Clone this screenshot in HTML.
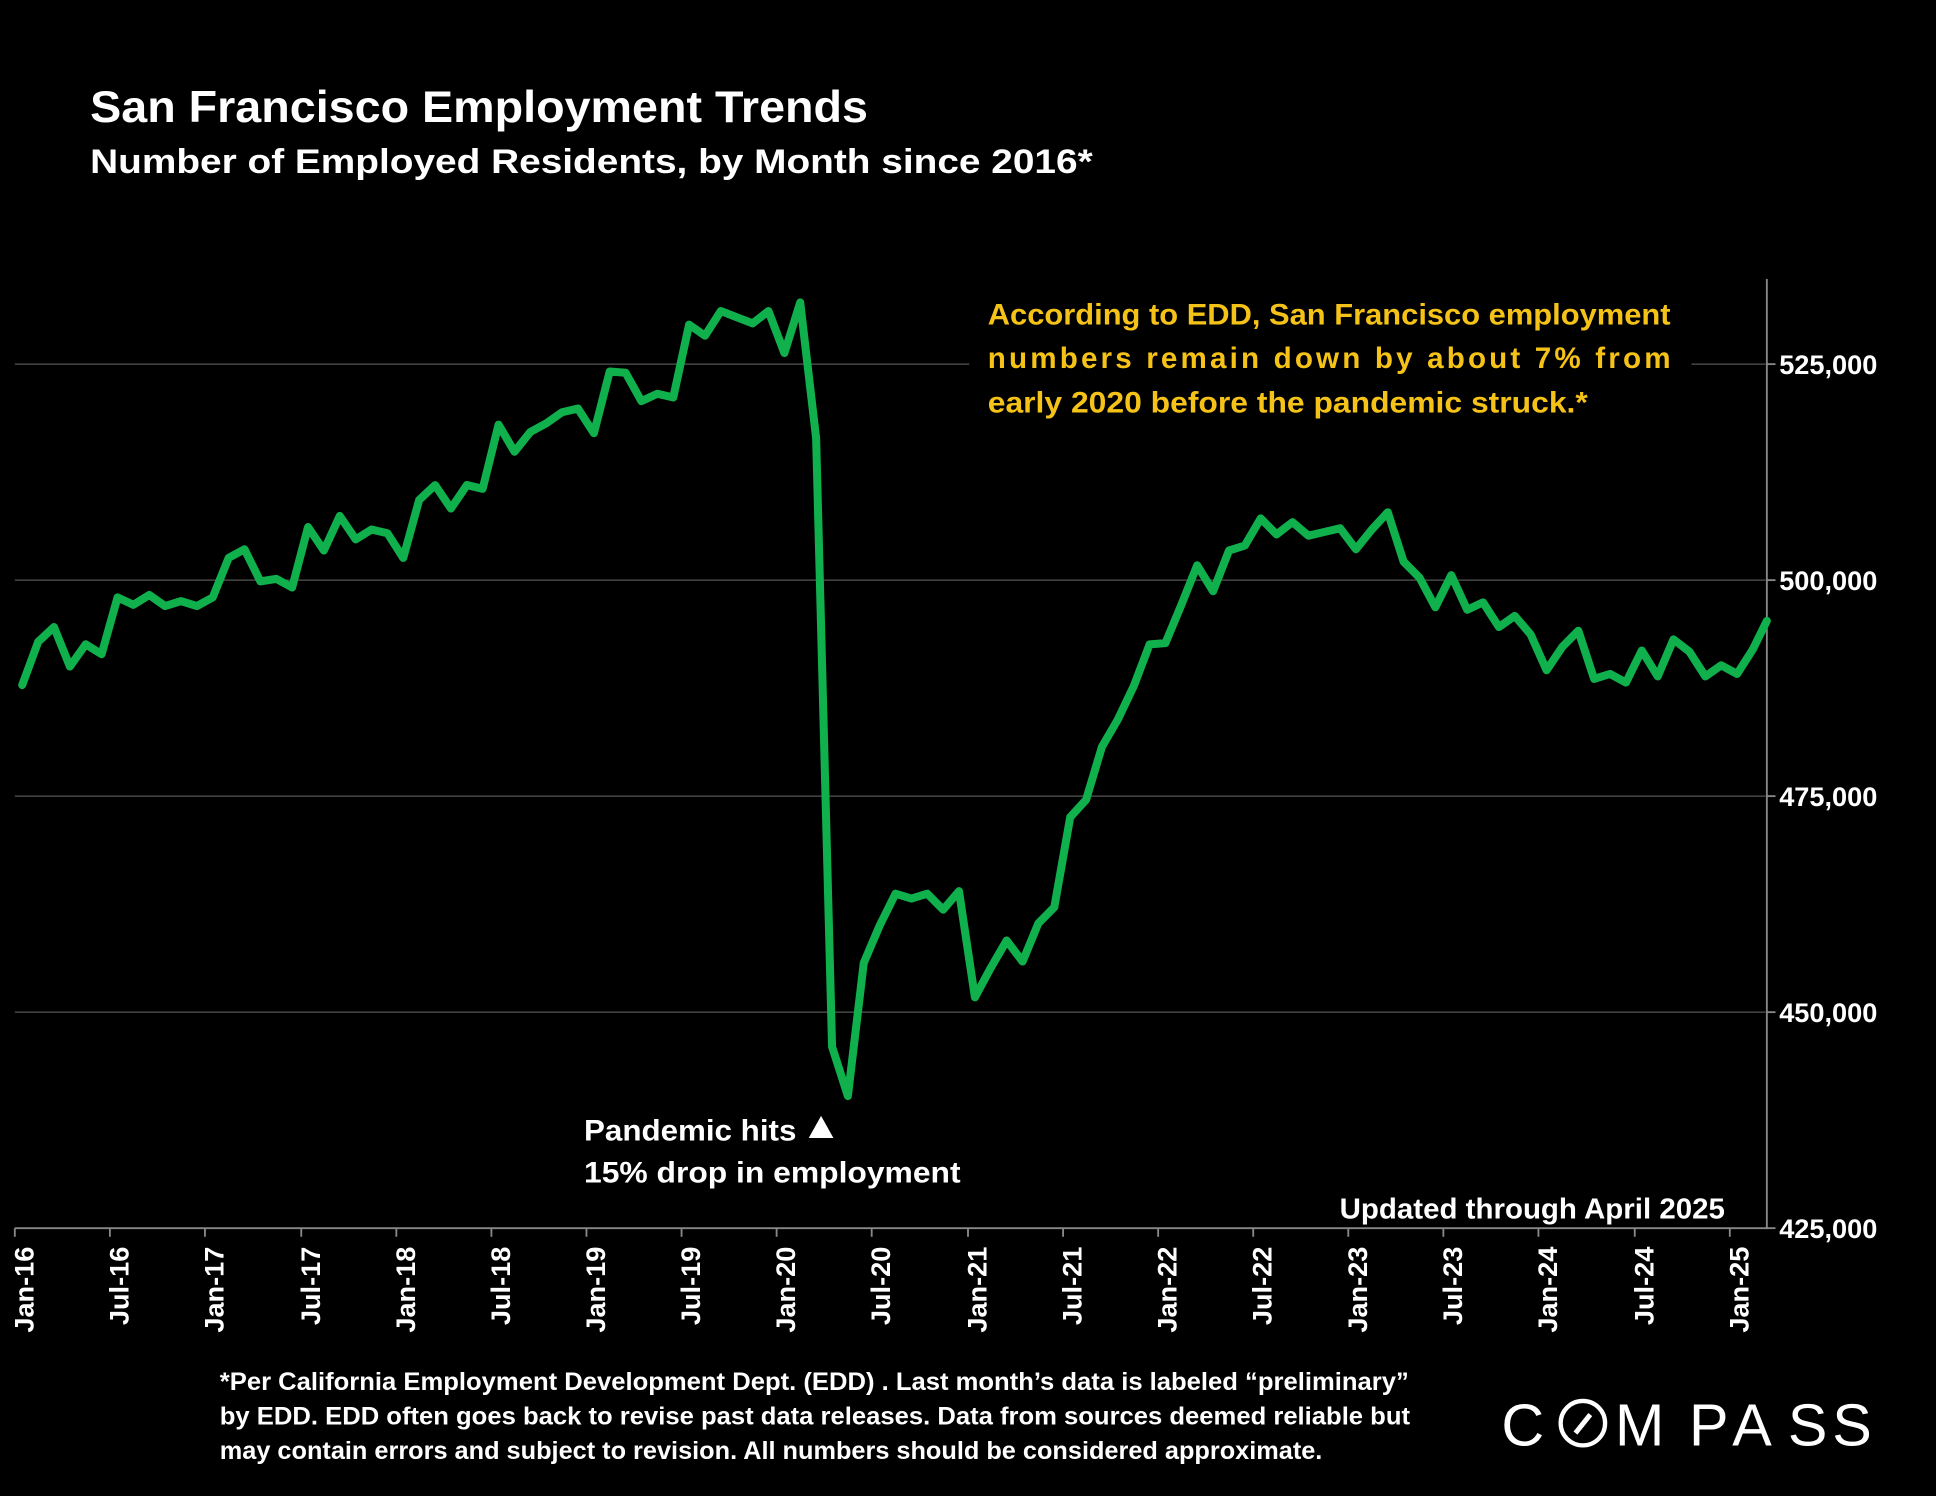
<!DOCTYPE html>
<html><head><meta charset="utf-8"><style>
html,body{margin:0;padding:0;background:#000;}
svg{display:block;}
text{font-family:"Liberation Sans",sans-serif;font-weight:bold;fill:#fff;}
</style></head><body>
<svg width="1936" height="1496" viewBox="0 0 1568 1212" preserveAspectRatio="none" xmlns="http://www.w3.org/2000/svg">
<rect width="1568" height="1212" fill="#000"/>
<text x="73" y="99" font-size="36" textLength="630" lengthAdjust="spacingAndGlyphs">San Francisco Employment Trends</text>
<text x="73" y="140" font-size="28" textLength="812" lengthAdjust="spacingAndGlyphs">Number of Employed Residents, by Month since 2016*</text>
<g stroke="#555" stroke-width="1">
<line x1="12" y1="295" x2="785" y2="295"/><line x1="1370" y1="295" x2="1430" y2="295"/>
<line x1="12" y1="470" x2="1430" y2="470"/>
<line x1="12" y1="645" x2="1430" y2="645"/>
<line x1="12" y1="820" x2="1430" y2="820"/>
</g>
<g stroke="#888" stroke-width="1.5">
<line x1="12" y1="995" x2="1432" y2="995"/>
<line x1="1431" y1="226" x2="1431" y2="995"/>
<line x1="1431" y1="295" x2="1438" y2="295"/><line x1="1431" y1="470" x2="1438" y2="470"/><line x1="1431" y1="645" x2="1438" y2="645"/><line x1="1431" y1="820" x2="1438" y2="820"/><line x1="1431" y1="995" x2="1438" y2="995"/>
<line x1="12" y1="995" x2="12" y2="1002"/><line x1="89" y1="995" x2="89" y2="1002"/><line x1="166" y1="995" x2="166" y2="1002"/><line x1="244" y1="995" x2="244" y2="1002"/><line x1="321" y1="995" x2="321" y2="1002"/><line x1="398" y1="995" x2="398" y2="1002"/><line x1="475" y1="995" x2="475" y2="1002"/><line x1="552" y1="995" x2="552" y2="1002"/><line x1="629" y1="995" x2="629" y2="1002"/><line x1="706" y1="995" x2="706" y2="1002"/><line x1="784" y1="995" x2="784" y2="1002"/><line x1="861" y1="995" x2="861" y2="1002"/><line x1="938" y1="995" x2="938" y2="1002"/><line x1="1015" y1="995" x2="1015" y2="1002"/><line x1="1092" y1="995" x2="1092" y2="1002"/><line x1="1169" y1="995" x2="1169" y2="1002"/><line x1="1246" y1="995" x2="1246" y2="1002"/><line x1="1324" y1="995" x2="1324" y2="1002"/><line x1="1401" y1="995" x2="1401" y2="1002"/>
</g>
<g font-size="22">
<text x="1441" y="303">525,000</text>
<text x="1441" y="478">500,000</text>
<text x="1441" y="653">475,000</text>
<text x="1441" y="828">450,000</text>
<text x="1441" y="1003">425,000</text>
</g>
<g font-size="22" text-anchor="end">
<text transform="translate(27,1010) rotate(-90)">Jan-16</text>
<text transform="translate(104,1010) rotate(-90)">Jul-16</text>
<text transform="translate(181,1010) rotate(-90)">Jan-17</text>
<text transform="translate(259,1010) rotate(-90)">Jul-17</text>
<text transform="translate(336,1010) rotate(-90)">Jan-18</text>
<text transform="translate(413,1010) rotate(-90)">Jul-18</text>
<text transform="translate(490,1010) rotate(-90)">Jan-19</text>
<text transform="translate(567,1010) rotate(-90)">Jul-19</text>
<text transform="translate(644,1010) rotate(-90)">Jan-20</text>
<text transform="translate(721,1010) rotate(-90)">Jul-20</text>
<text transform="translate(799,1010) rotate(-90)">Jan-21</text>
<text transform="translate(876,1010) rotate(-90)">Jul-21</text>
<text transform="translate(953,1010) rotate(-90)">Jan-22</text>
<text transform="translate(1030,1010) rotate(-90)">Jul-22</text>
<text transform="translate(1107,1010) rotate(-90)">Jan-23</text>
<text transform="translate(1184,1010) rotate(-90)">Jul-23</text>
<text transform="translate(1261,1010) rotate(-90)">Jan-24</text>
<text transform="translate(1339,1010) rotate(-90)">Jul-24</text>
<text transform="translate(1416,1010) rotate(-90)">Jan-25</text>
</g>
<polyline fill="none" stroke="#10b04c" stroke-width="6.5" stroke-linejoin="round" stroke-linecap="round" points="18,555 30.9,520 43.7,508 56.6,540 69.4,522 82.3,530 95.2,484 108,490 120.9,482 133.7,491 146.6,487 159.5,491 172.3,484 185.2,452 198,445 210.9,471 223.8,469 236.6,476 249.5,427 262.3,446 275.2,418 288.1,437 300.9,429 313.8,432 326.6,452 339.5,405 352.4,393 365.2,412 378.1,393 390.9,396 403.8,344 416.7,366 429.5,350 442.4,343 455.2,334 468.1,331 481,351 493.8,301 506.7,302 519.5,325 532.4,319 545.3,322 558.1,263 571,272 583.8,252 596.7,257 609.6,262 622.4,252 635.3,286 648.1,245 661,355 673.9,848 686.7,888 699.6,780 712.4,750 725.3,724 738.2,728 751,724 763.9,737 776.7,722 789.6,808 802.5,784 815.3,762 828.2,779 841,748 853.9,735 866.8,662 879.6,648 892.5,605 905.3,583 918.2,556 931.1,522 943.9,521 956.8,490 969.6,458 982.5,479 995.4,446 1008.2,442 1021.1,420 1033.9,433 1046.8,423 1059.7,434 1072.5,431 1085.4,428 1098.2,445 1111.1,429 1124,415 1136.8,455 1149.7,468 1162.5,492 1175.4,466 1188.3,494 1201.1,488 1214,508 1226.8,499 1239.7,514 1252.6,543 1265.4,524 1278.3,511 1291.1,550 1304,546 1316.9,553 1329.7,527 1342.6,548 1355.4,518 1368.3,528 1381.2,548 1394,539 1406.9,546 1419.7,526 1431,503"/>
<g font-size="24">
<text x="800" y="263" style="fill:#f5c218" textLength="553" lengthAdjust="spacingAndGlyphs">According to EDD, San Francisco employment</text>
<text x="800" y="298" style="fill:#f5c218" textLength="553" lengthAdjust="spacing">numbers remain down by about 7% from</text>
<text x="800" y="334" style="fill:#f5c218" textLength="486" lengthAdjust="spacingAndGlyphs">early 2020 before the pandemic struck.*</text>
</g>
<text x="473" y="924" font-size="24" textLength="172" lengthAdjust="spacingAndGlyphs">Pandemic hits</text>
<polygon points="655,922 675,922 665,904" fill="#fff"/>
<text x="473" y="958" font-size="24" textLength="305" lengthAdjust="spacingAndGlyphs">15% drop in employment</text>
<text x="1085" y="987" font-size="23" textLength="312" lengthAdjust="spacingAndGlyphs">Updated through April 2025</text>
<g font-size="20">
<text x="178" y="1126" textLength="963" lengthAdjust="spacingAndGlyphs">*Per California Employment Development Dept. (EDD) . Last month’s data is labeled “preliminary”</text>
<text x="178" y="1154" textLength="964" lengthAdjust="spacingAndGlyphs">by EDD. EDD often goes back to revise past data releases. Data from sources deemed reliable but</text>
<text x="178" y="1182" textLength="893" lengthAdjust="spacingAndGlyphs">may contain errors and subject to revision. All numbers should be considered approximate.</text>
</g>
<g font-size="48" style="font-weight:normal">
<text x="1216" y="1171" style="font-weight:normal">C</text>
<text x="1308" y="1171" style="font-weight:normal">M</text>
<text x="1368" y="1171" style="font-weight:normal">P</text>
<text x="1403" y="1171" style="font-weight:normal">A</text>
<text x="1448" y="1171" style="font-weight:normal">S</text>
<text x="1484" y="1171" style="font-weight:normal">S</text>
<circle cx="1282" cy="1153" r="18" fill="none" stroke="#fff" stroke-width="3.5"/>
<line x1="1276" y1="1161" x2="1288" y2="1146" stroke="#fff" stroke-width="4"/>
</g>
</svg>
</body></html>
